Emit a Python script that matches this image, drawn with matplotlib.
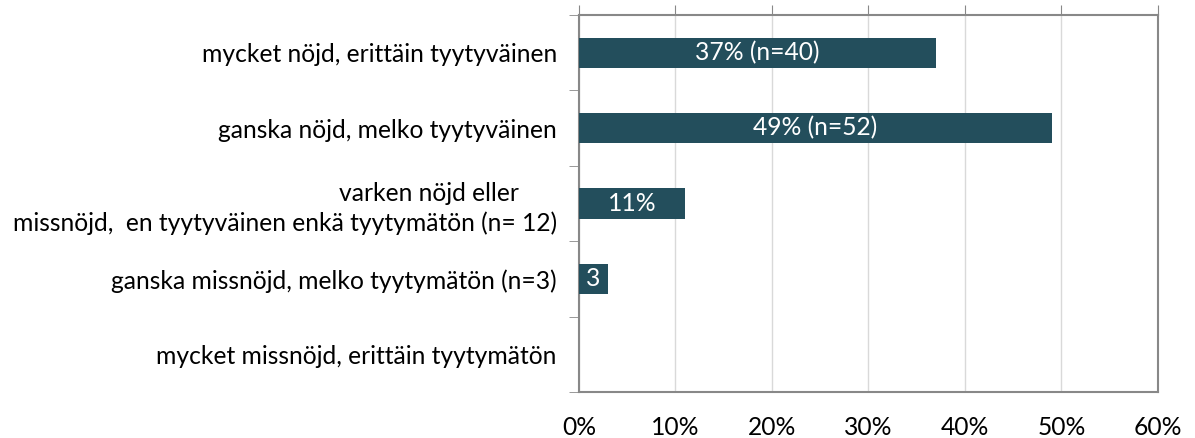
import matplotlib
matplotlib.use("Agg")
import matplotlib.pyplot as plt
import numpy as np

categories = [
    "mycket nöjd, erittäin tyytyväinen",
    "ganska nöjd, melko tyytyväinen",
    "varken nöjd eller      \nmissnöjd,  en tyytyväinen enkä tyytymätön (n= 12)",
    "ganska missnöjd, melko tyytymätön (n=3)",
    "mycket missnöjd, erittäin tyytymätön",
]
values = [37, 49, 11, 3, 0]
bar_labels = ["37% (n=40)", "49% (n=52)", "11%", "3", ""]
xticks = [0, 10, 20, 30, 40, 50, 60]
xtick_labels = ["0%", "10%", "20%", "30%", "40%", "50%", "60%"]

plt.rcParams['font.family'] = ['Lato', 'DejaVu Sans']
FS = 17.7

fig = plt.figure(figsize=(11.95, 4.38), dpi=100)
ax = fig.add_axes([0.4845, 0.105, 0.9690 - 0.4845, 0.9658 - 0.105])

y = np.arange(len(categories))
bar_color = "#234e5c"
ax.barh(y, values, height=0.4, color=bar_color, zorder=3)
for yi, v, lab in zip(y, values, bar_labels):
    if lab:
        ax.text(v / 2, yi, lab, ha='center', va='center', color='white', fontsize=FS, zorder=4)

ax.set_xlim(0, 60)
ax.set_ylim(len(categories) - 0.5, -0.5)
ax.set_xticks(xticks)
ax.set_xticklabels(xtick_labels, fontsize=FS)
ax.set_yticks(y)
ax.set_yticklabels(categories, fontsize=FS, multialignment='right', linespacing=1.3)
ax.set_yticks(np.arange(-0.5, len(categories)), minor=True)

ax.xaxis.grid(True, color="#d9d9d9", linewidth=1, zorder=0)
ax.tick_params(axis='x', which='major', top=True, bottom=False, labeltop=False,
               labelbottom=True, direction='out', length=7, color="#888888", pad=10)
ax.tick_params(axis='y', which='major', length=0, pad=16)
ax.tick_params(axis='y', which='minor', length=7, color="#888888", direction='out')
for s in ax.spines.values():
    s.set_color("#888888")
    s.set_linewidth(1.5)

fig.savefig("out.png", dpi=100)
